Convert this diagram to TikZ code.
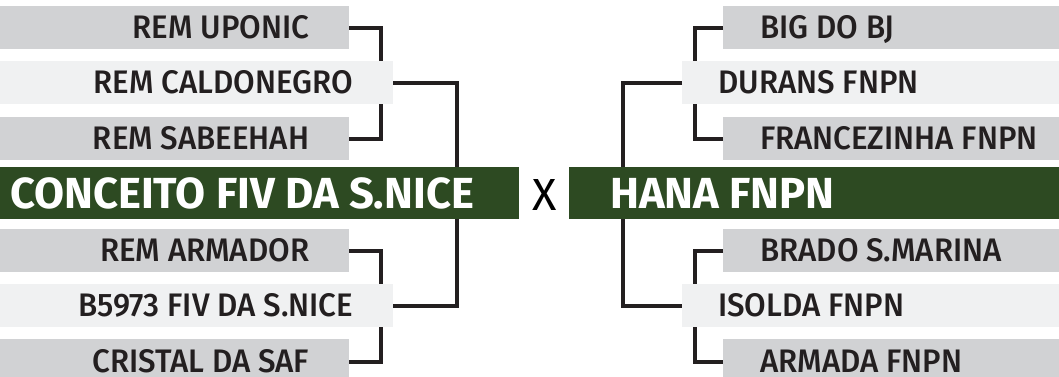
\documentclass[tikz,border=0pt]{standalone}
\usepackage{fontspec}
\setmainfont{Fira Sans}
\newfontfamily\boxfont{Fira Sans Medium}[FakeStretch=0.96]
\newfontfamily\barfont{Fira Sans}
\definecolor{boxgray}{HTML}{D1D2D4}
\definecolor{boxlight}{HTML}{F0F1F2}
\definecolor{barGreen}{HTML}{2D4A22}
\definecolor{ink}{HTML}{231F20}
\tikzset{
  gbox/.style={fill=boxgray, draw=none, inner sep=0pt, minimum height=43pt},
  lbox/.style={fill=boxlight, draw=none, inner sep=0pt, minimum height=43pt},
  gbar/.style={fill=barGreen, draw=none, inner sep=0pt, minimum height=52pt},
  lbl/.style={inner sep=0pt, text height=22.5pt, text depth=0pt, text=ink, font=\boxfont\fontsize{32.6pt}{34pt}\selectfont},
  biglbl/.style={inner sep=0pt, text height=30pt, text depth=0pt, text=white, font=\barfont\bfseries\fontsize{43.5pt}{45pt}\selectfont},
  conn/.style={draw=ink, line width=4pt, line join=miter}
}
\begin{document}
\begin{tikzpicture}[x=1pt,y=-1pt]
\useasboundingbox (0,0) rectangle (1059,377);
\clip (0,0) rectangle (1059,377);
% left boxes
\node[gbox, minimum width=349pt, anchor=north west] (l1) at (0,6) {};
\node[lbox, minimum width=393pt, anchor=north west] (l2) at (0,61) {};
\node[gbox, minimum width=349pt, anchor=north west] (l3) at (0,117) {};
\node[gbox, minimum width=349pt, anchor=north west] (l4) at (0,229) {};
\node[lbox, minimum width=393pt, anchor=north west] (l5) at (0,284) {};
\node[gbox, minimum width=349pt, minimum height=45pt, anchor=north west] (l6) at (0,339) {};
% right boxes
\node[gbox, minimum width=336pt, anchor=north west] (r1) at (723,6) {};
\node[lbox, minimum width=377pt, anchor=north west] (r2) at (682,61) {};
\node[gbox, minimum width=336pt, anchor=north west] (r3) at (723,117) {};
\node[gbox, minimum width=336pt, anchor=north west] (r4) at (723,229) {};
\node[lbox, minimum width=377pt, anchor=north west] (r5) at (682,284) {};
\node[gbox, minimum width=336pt, minimum height=45pt, anchor=north west] (r6) at (723,339) {};
% green bars
\node[gbar, minimum width=519pt, anchor=north west] (gl) at (0,167) {};
\node[gbar, minimum width=490pt, anchor=north west] (gr) at (569,167) {};
% texts left
\node[lbl, anchor=east] (t1) at ([xshift=-40pt]l1.east) {REM UPONIC};
\node[lbl, anchor=east] (t2) at ([xshift=-40pt]l2.east) {REM CALDONEGRO};
\node[lbl, anchor=east] (t3) at ([xshift=-40pt]l3.east) {REM SABEEHAH};
\node[lbl, anchor=east] (t4) at ([xshift=-40pt]l4.east) {REM ARMADOR};
\node[lbl, anchor=east] (t5) at ([xshift=-40pt]l5.east) {B5973 FIV DA S.NICE};
\node[lbl, anchor=east] (t6) at ([xshift=-40pt]l6.east) {CRISTAL DA SAF};
% texts right
\node[lbl, anchor=west] (u1) at ([xshift=37pt]r1.west) {BIG DO BJ};
\node[lbl, anchor=west] (u2) at ([xshift=36pt]r2.west) {DURANS FNPN};
\node[lbl, anchor=west] (u3) at ([xshift=37pt]r3.west) {FRANCEZINHA FNPN};
\node[lbl, anchor=west] (u4) at ([xshift=37pt]r4.west) {BRADO S.MARINA};
\node[lbl, anchor=west] (u5) at ([xshift=36pt]r5.west) {ISOLDA FNPN};
\node[lbl, anchor=west] (u6) at ([xshift=37pt]r6.west) {ARMADA FNPN};
% green texts
\node[biglbl, anchor=west] (gt1) at ([xshift=10pt]gl.west) {CONCEITO FIV DA S.NICE};
\node[biglbl, anchor=west] (gt2) at ([xshift=41pt]gr.west) {HANA FNPN};
\node[inner sep=0pt, text height=31pt, text depth=0pt, text=black, font=\barfont\fontsize{45pt}{47pt}\selectfont] (vs) at (544.5,194.5) {X};
% connectors left
\draw[conn] (l1.east) -| ([xshift=-12pt]l2.north east);
\draw[conn] (l3.east) -| ([xshift=-12pt]l2.south east);
\draw[conn] (l2.east) -| ([xshift=-62pt]gl.north east);
\draw[conn] ([xshift=-62pt]gl.south east) |- (l5.east);
\draw[conn] (l4.east) -| ([xshift=-12pt]l5.north east);
\draw[conn] ([xshift=-12pt]l5.south east) |- (l6.east);
% connectors right
\draw[conn] (r1.west) -| ([xshift=13pt]r2.north west);
\draw[conn] (r3.west) -| ([xshift=13pt]r2.south west);
\draw[conn] (r2.west) -| ([xshift=54pt]gr.north west);
\draw[conn] ([xshift=54pt]gr.south west) |- (r5.west);
\draw[conn] (r4.west) -| ([xshift=13pt]r5.north west);
\draw[conn] ([xshift=13pt]r5.south west) |- (r6.west);
\end{tikzpicture}
\end{document}
